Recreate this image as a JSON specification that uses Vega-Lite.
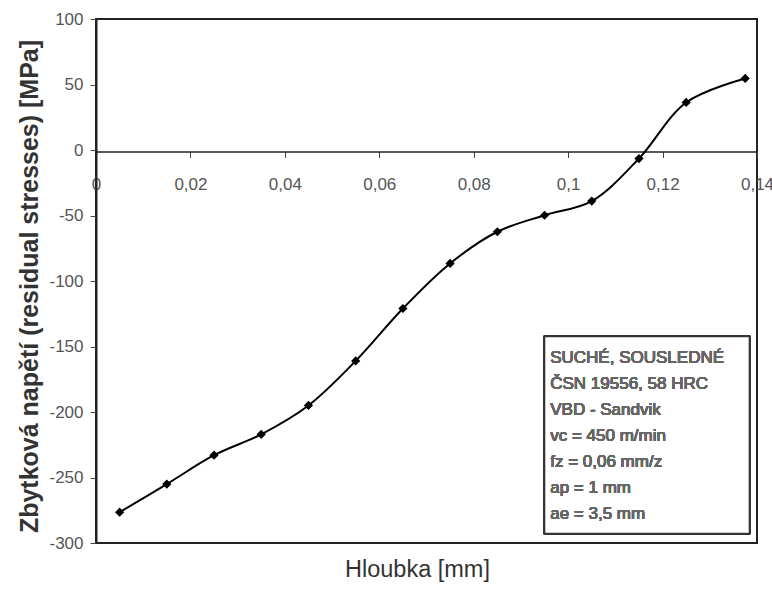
{
  "$schema": "https://vega.github.io/schema/vega-lite/v6.json",
  "width": 661,
  "height": 524,
  "autosize": "none",
  "padding": {"left": 96, "top": 19, "right": 15, "bottom": 46},
  "background": "white",
  "config": {
    "view": {"stroke": "#222", "strokeWidth": 2},
    "font": "Liberation Sans"
  },
  "data": {
    "values": [
      {"depth": 0.005, "stress": -276.5},
      {"depth": 0.015, "stress": -255},
      {"depth": 0.025, "stress": -233},
      {"depth": 0.035, "stress": -217},
      {"depth": 0.045, "stress": -195},
      {"depth": 0.055, "stress": -161},
      {"depth": 0.065, "stress": -121},
      {"depth": 0.075, "stress": -86.6},
      {"depth": 0.085, "stress": -62.4},
      {"depth": 0.095, "stress": -49.8},
      {"depth": 0.105, "stress": -39},
      {"depth": 0.115, "stress": -6.5},
      {"depth": 0.125, "stress": 36.3},
      {"depth": 0.1375, "stress": 54.6}
    ]
  },
  "layer": [
    {
      "mark": {"type": "rect", "fill": "white", "stroke": "#333", "strokeWidth": 1.5},
      "encoding": {
        "x": {"datum": 0.095, "type": "quantitative"},
        "x2": {"datum": 0.1384},
        "y": {"datum": -142.4, "type": "quantitative"},
        "y2": {"datum": -292.7}
      }
    },
    {
      "mark": {"type": "text", "align": "left", "baseline": "middle", "fontSize": 17, "fill": "#666", "fontWeight": "normal", "lineHeight": 26, "font": "Liberation Sans"},
      "encoding": {
        "x": {"datum": 0.0962, "type": "quantitative"},
        "y": {"datum": -159, "type": "quantitative"},
        "text": {"value": ["SUCHÉ, SOUSLEDNÉ", "ČSN 19556, 58 HRC", "VBD - Sandvik", "vc = 450 m/min", "fz = 0,06 mm/z", "ap = 1 mm", "ae = 3,5 mm"]}
      }
    },
    {
      "mark": {"type": "line", "interpolate": "catmull-rom", "color": "black", "strokeWidth": 2},
      "encoding": {
        "x": {
          "field": "depth",
          "type": "quantitative",
          "scale": {"domain": [0, 0.14], "nice": false, "zero": false},
          "axis": {
            "title": "Hloubka [mm]",
            "values": [0, 0.02, 0.04, 0.06, 0.08, 0.1, 0.12, 0.14],
            "labelExpr": "replace(format(datum.value, '.2~f'), '.', ',')",
            "offset": -391.5,
            "grid": false,
            "domainColor": "#222",
            "domainWidth": 1.5,
            "tickColor": "#444",
            "tickSize": 6,
            "tickWidth": 1,
            "labelFont": "Liberation Sans",
            "labelFontSize": 17,
            "labelColor": "#555",
            "labelPadding": 19,
            "labelFlush": false,
            "labelOverlap": false,
            "titleFont": "Liberation Sans",
            "titleFontSize": 23.5,
            "titleFontWeight": "normal",
            "titleColor": "#333",
            "titleX": 321,
            "titleY": 406,
            "titleBaseline": "top",
            "titleAlign": "center",
            "titleAnchor": null
          }
        },
        "y": {
          "field": "stress",
          "type": "quantitative",
          "scale": {"domain": [-300, 100], "nice": false, "zero": false},
          "axis": {
            "title": "Zbytková napětí (residual stresses) [MPa]",
            "values": [-300, -250, -200, -150, -100, -50, 0, 50, 100],
            "labelExpr": "toString(datum.value)",
            "grid": false,
            "domainColor": "#222",
            "domainWidth": 2,
            "tickColor": "#444",
            "tickSize": 6,
            "tickWidth": 1,
            "labelFont": "Liberation Sans",
            "labelFontSize": 17,
            "labelColor": "#555",
            "labelPadding": 7,
            "labelFlush": false,
            "titleFont": "Liberation Sans",
            "titleFontSize": 25,
            "titleFontWeight": "bold",
            "titleColor": "#333",
            "titlePadding": 6,
            "titleY": 267,
            "titleAlign": "center",
            "titleAnchor": null
          }
        }
      }
    },
    {
      "mark": {"type": "point", "shape": "diamond", "filled": true, "color": "black", "size": 85, "opacity": 1},
      "encoding": {
        "x": {"field": "depth", "type": "quantitative"},
        "y": {"field": "stress", "type": "quantitative"}
      }
    }
  ]
}
